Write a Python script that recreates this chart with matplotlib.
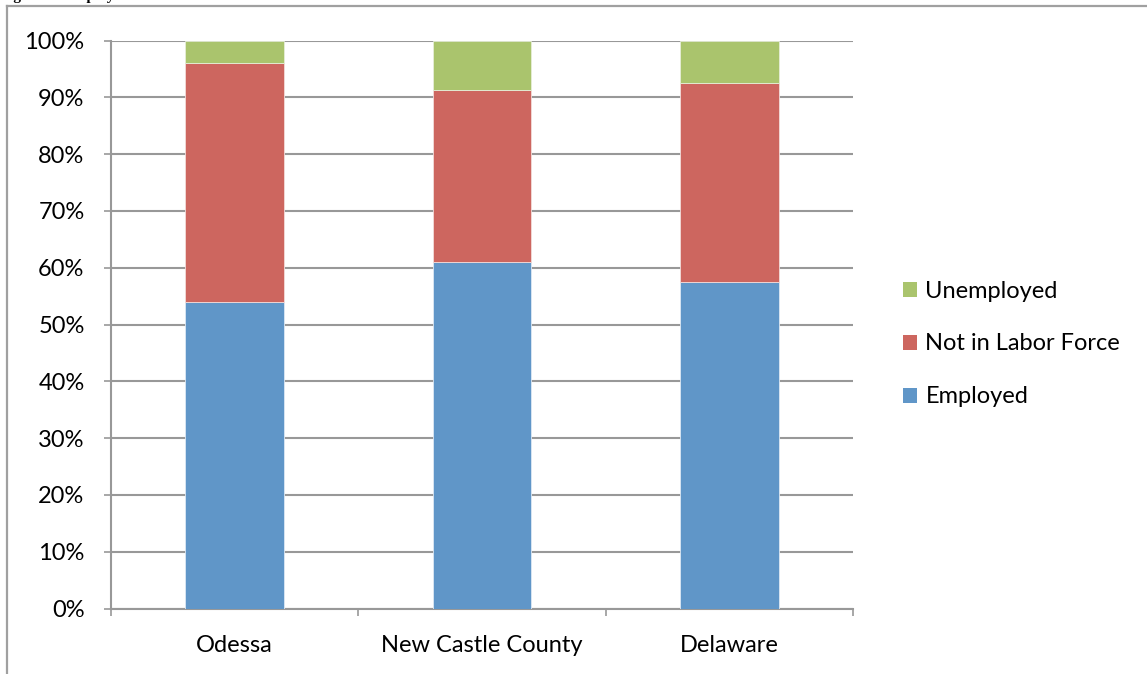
import matplotlib
matplotlib.use("Agg")
import matplotlib.pyplot as plt
from matplotlib.lines import Line2D
from matplotlib.patches import Patch

categories = ["Odessa", "New Castle County", "Delaware"]
employed = [53.9, 61.0, 57.4]
not_in_labor_force = [42.1, 30.3, 35.2]
unemployed = [4.0, 8.7, 7.4]
y_ticks = [0, 10, 20, 30, 40, 50, 60, 70, 80, 90, 100]
y_tick_labels = [f"{v}%" for v in y_ticks]

c_emp = "#6096C8"
c_nilf = "#CD665F"
c_unemp = "#AAC46D"
grid_c = "#989898"

plt.rcParams['font.family'] = ['Lato', 'DejaVu Sans']
FS = 17

fig = plt.figure(figsize=(11.47, 6.74), dpi=100)
ax = fig.add_axes([111/1147, 1-608.5/674, (853-111)/1147, (608.5-40.5)/674])

x = list(range(len(categories)))
w = 0.4
ax.bar(x, employed, w, color=c_emp, edgecolor="#dde8f4", linewidth=0.6, zorder=3, label="Employed")
b2 = [e for e in employed]
ax.bar(x, not_in_labor_force, w, bottom=b2, color=c_nilf, edgecolor="#f3dcda", linewidth=0.6, zorder=3, label="Not in Labor Force")
b3 = [e + n for e, n in zip(employed, not_in_labor_force)]
ax.bar(x, unemployed, w, bottom=b3, color=c_unemp, edgecolor="#e6eed8", linewidth=0.6, zorder=3, label="Unemployed")

ax.set_xlim(-0.5, len(categories) - 0.5)
ax.set_ylim(0, 100)
ax.set_yticks(y_ticks)
ax.set_yticklabels(y_tick_labels)
ax.yaxis.grid(True, color=grid_c, linewidth=1.5, zorder=0)
ax.set_axisbelow(True)

ax.set_xticks(x)
ax.set_xticklabels(categories)
ax.set_xticks([i - 0.5 for i in range(len(categories) + 1)], minor=True)
ax.tick_params(axis='x', which='major', length=0, pad=19, labelsize=FS)
ax.tick_params(axis='x', which='minor', length=5, width=1.2, color=grid_c, direction='out')
ax.tick_params(axis='y', which='major', length=5, width=1.2, color=grid_c, pad=14, labelsize=FS)

for s in ['top', 'right']:
    ax.spines[s].set_visible(False)
for s in ['left', 'bottom']:
    ax.spines[s].set_color(grid_c)
    ax.spines[s].set_linewidth(1.5)

handles = [Patch(facecolor=c_unemp, label="Unemployed"),
           Patch(facecolor=c_nilf, label="Not in Labor Force"),
           Patch(facecolor=c_emp, label="Employed")]
leg = fig.legend(handles=handles, loc='center left', bbox_to_anchor=(903/1147, 1-344/674),
                 frameon=False, fontsize=FS, handlelength=0.6, handleheight=0.6,
                 handletextpad=0.35, labelspacing=1.35, borderpad=0, borderaxespad=0)

# outer frame lines
fig.add_artist(Line2D([7/1147, 1], [1-5.5/674, 1-5.5/674], color="#a0a0a0", linewidth=1.6, transform=fig.transFigure))
fig.add_artist(Line2D([7/1147, 7/1147], [0, 1-5.5/674], color="#a0a0a0", linewidth=1.6, transform=fig.transFigure))

# title cropped at the top edge, as in the reference (only descenders visible)
fig.text(0/1147, 1.0, "Figure 1: Employment Status", fontsize=11, fontweight='bold',
         family=['Liberation Serif', 'DejaVu Serif'], va='baseline', ha='left')

fig.savefig("out.png", dpi=100)
